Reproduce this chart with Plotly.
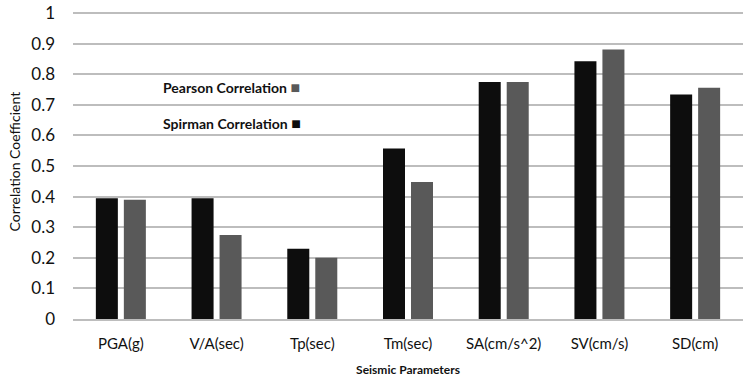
import plotly.graph_objects as go

categories = ["PGA(g)", "V/A(sec)", "Tp(sec)", "Tm(sec)", "SA(cm/s^2)", "SV(cm/s)", "SD(cm)"]
spirman = [0.395, 0.395, 0.23, 0.557, 0.775, 0.843, 0.734]
pearson = [0.39, 0.275, 0.2, 0.448, 0.775, 0.881, 0.756]
y_ticks = [0, 0.1, 0.2, 0.3, 0.4, 0.5, 0.6, 0.7, 0.8, 0.9, 1]
y_tick_labels = ["0", "0.1", "0.2", "0.3", "0.4", "0.5", "0.6", "0.7", "0.8", "0.9", "1"]

BLACK = "#0d0d0d"
GRAY = "#595959"
FONT = "Lato"
TXT = "#111111"

fig = go.Figure()
fig.add_trace(go.Bar(x=categories, y=spirman, name="Spirman Correlation",
                     marker=dict(color=BLACK, line=dict(width=0))))
fig.add_trace(go.Bar(x=categories, y=pearson, name="Pearson Correlation",
                     marker=dict(color=GRAY, line=dict(width=0))))

fig.update_layout(
    width=746, height=382,
    margin=dict(l=73, r=3, t=7, b=63, autoexpand=False),
    paper_bgcolor="white", plot_bgcolor="white",
    barmode="group", bargap=0.415, bargroupgap=0.214,
    showlegend=False,
    font=dict(family=FONT, color=TXT),
)
fig.update_yaxes(
    automargin=False,
    range=[0, 1.02], tickvals=y_ticks, ticktext=y_tick_labels,
    showgrid=True, gridcolor="#bdbdbd", gridwidth=1.5,
    zeroline=False, showline=False,
    tickfont=dict(family=FONT, size=17, color=TXT),
    ticklabelstandoff=17,
)
fig.update_xaxes(
    automargin=False,
    showline=True, linecolor="#bdbdbd", linewidth=1.5,
    tickfont=dict(family=FONT, size=15, color=TXT),
    ticks="", ticklabelstandoff=10,
    title=dict(text="<b>Seismic Parameters</b>", font=dict(family=FONT, size=12, color=TXT), standoff=15),
)

# y-axis title placed as rotated text
fig.add_annotation(xref="paper", yref="paper", x=-0.088, y=0.505, xanchor="center", yanchor="middle",
                   showarrow=False, textangle=-90,
                   text="Correlation Coefficient",
                   font=dict(family=FONT, size=14, color=TXT))

fig.add_annotation(xref="paper", yref="paper", x=0.131, y=0.745, xanchor="left", yanchor="middle",
                   showarrow=False,
                   text=f"<b>Pearson Correlation</b> <span style='color:{GRAY};font-size:16px'>■</span>",
                   font=dict(family=FONT, size=14, color=TXT))
fig.add_annotation(xref="paper", yref="paper", x=0.131, y=0.629, xanchor="left", yanchor="middle",
                   showarrow=False,
                   text=f"<b>Spirman Correlation</b> <span style='color:{BLACK};font-size:16px'>■</span>",
                   font=dict(family=FONT, size=14, color=TXT))

# remove the default 8px page margin so the 746x382 figure fills the window
fig.write_html("out.html", config={"displayModeBar": False},
               post_script="document.body.style.margin='0';document.body.style.overflow='hidden';")
